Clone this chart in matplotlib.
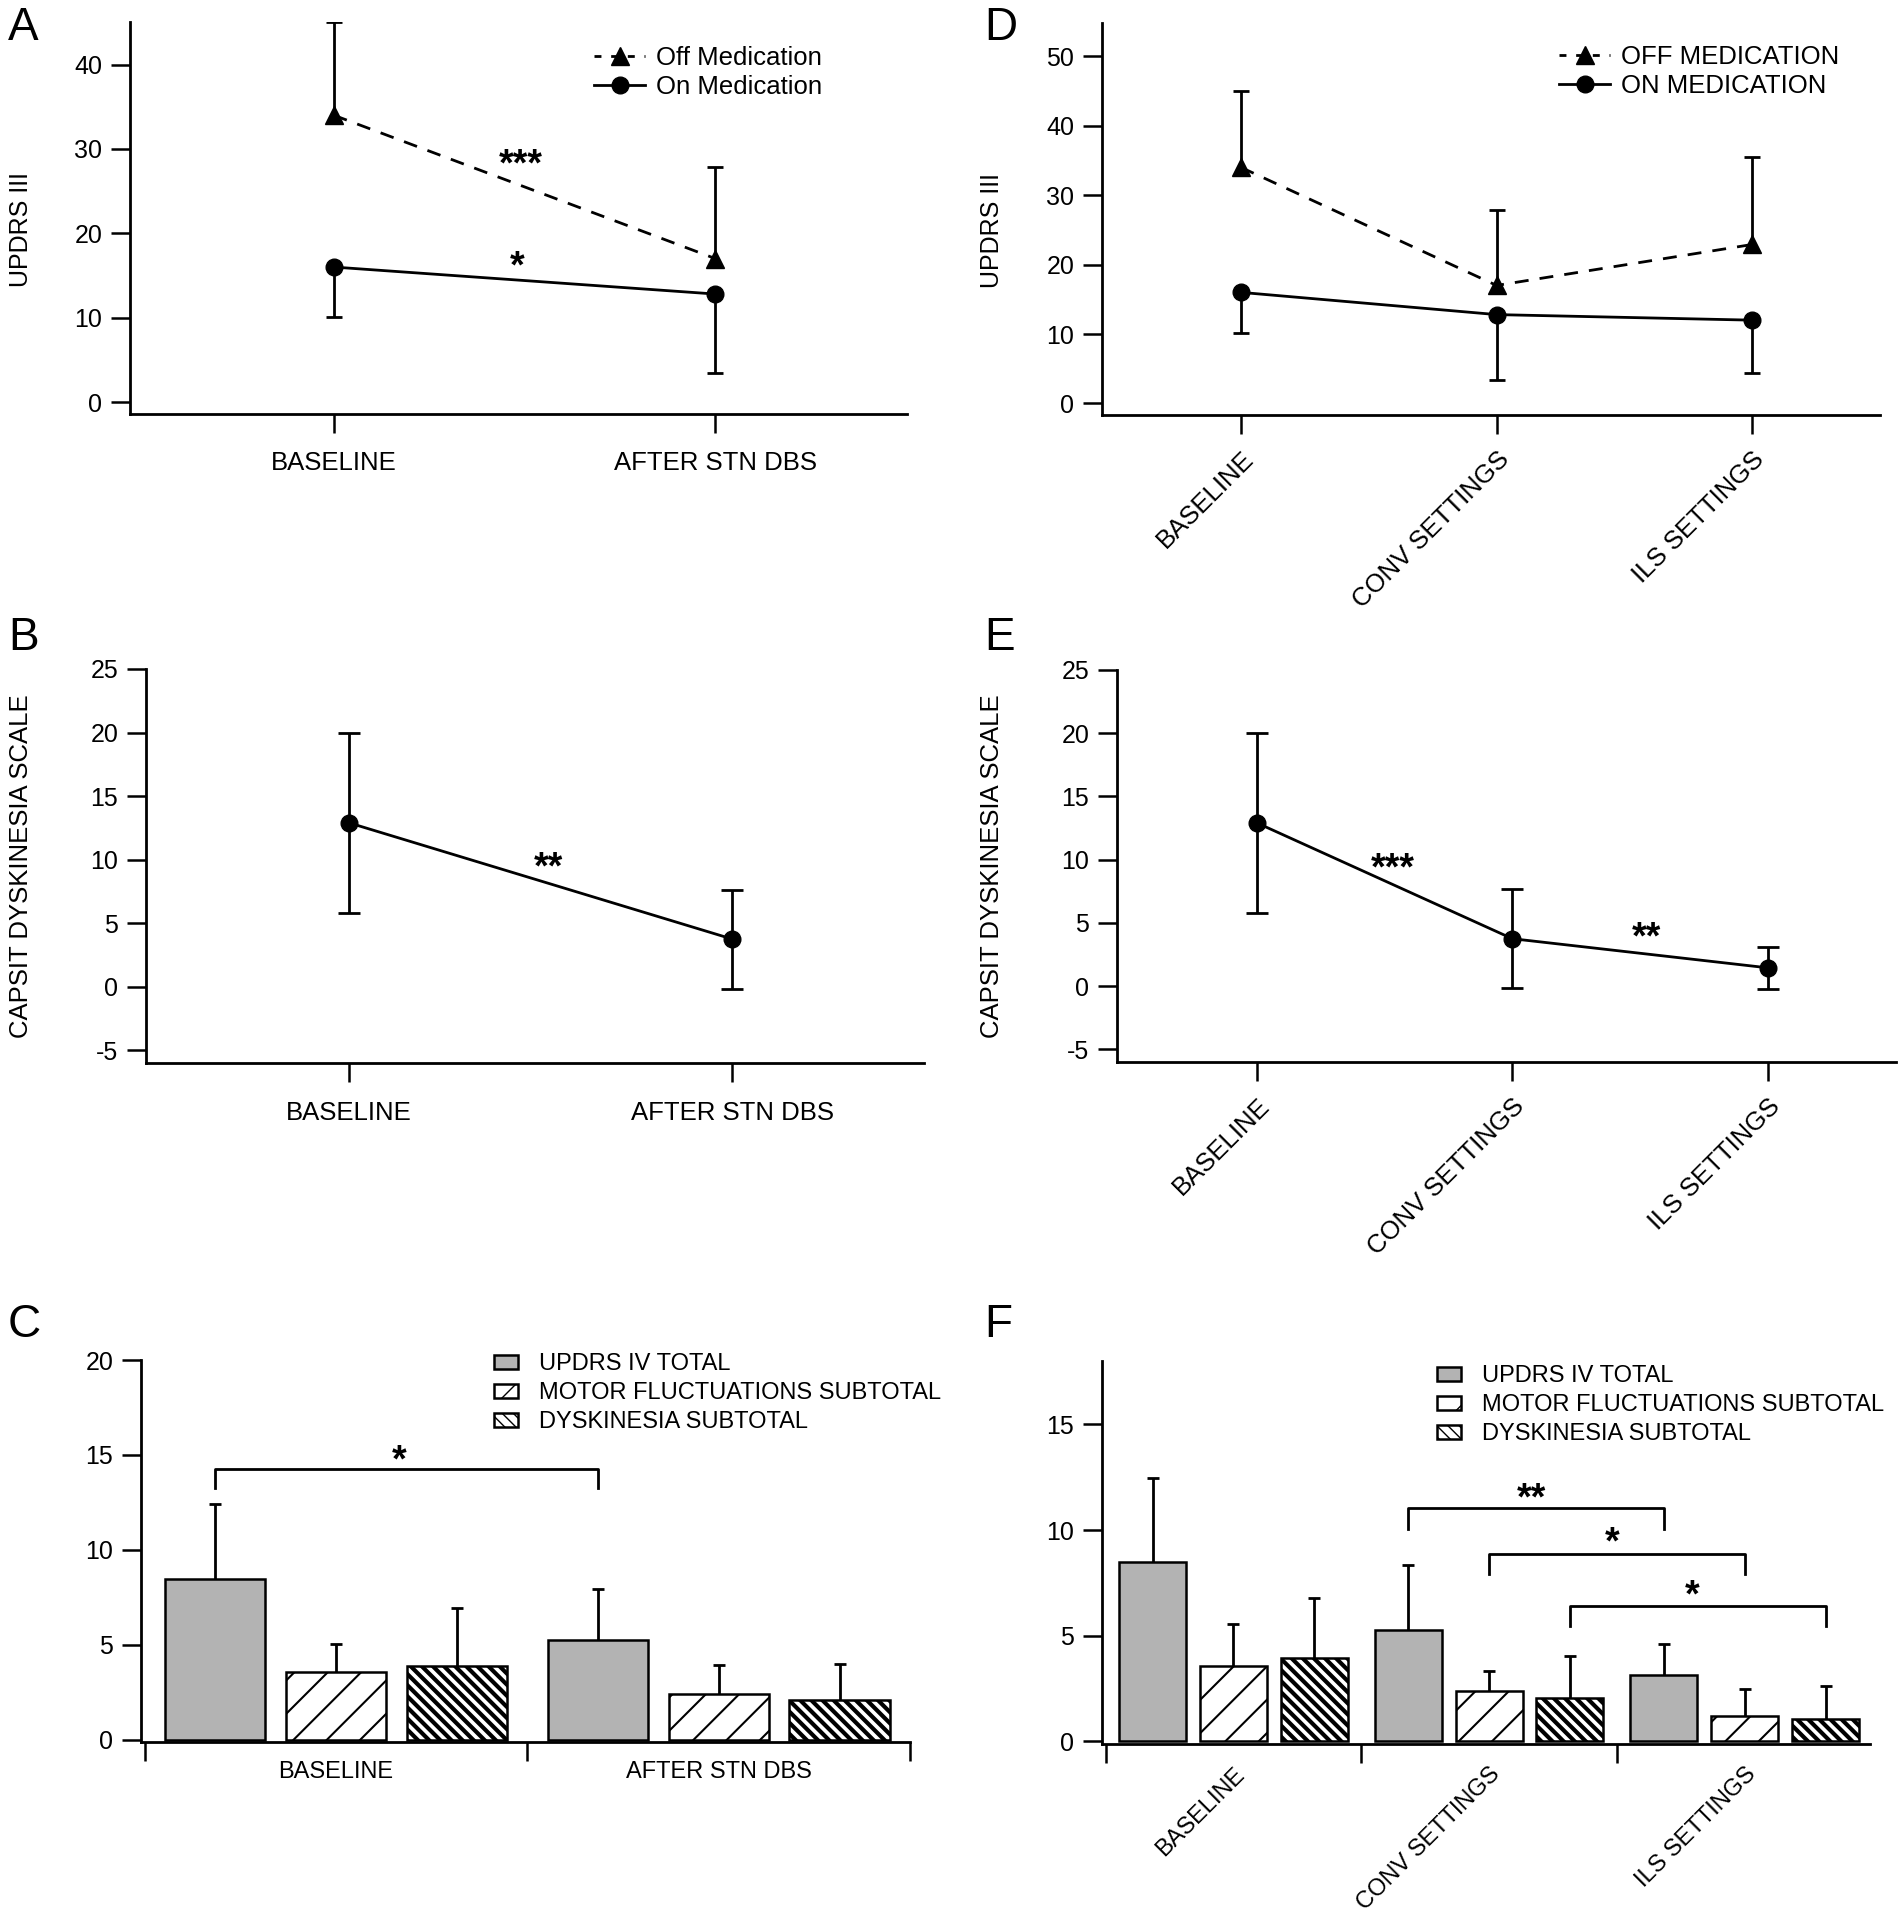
import numpy as np
import matplotlib
matplotlib.use('Agg')
import matplotlib.pyplot as plt
from matplotlib.lines import Line2D
from matplotlib.patches import Patch

plt.rcParams['font.family'] = ['Liberation Sans', 'DejaVu Sans']
plt.rcParams['axes.linewidth'] = 2.0
plt.rcParams['axes.unicode_minus'] = False
plt.rcParams['hatch.color'] = 'black'

# --- data ---
stages_2 = ['BASELINE', 'AFTER STN DBS']
stages_3 = ['BASELINE', 'CONV SETTINGS', 'ILS SETTINGS']

# UPDRS III (A uses the first two points, D all three)
updrs3_off = [34.0, 17.0, 22.9]
updrs3_off_sd = [11.0, 10.9, 12.6]
updrs3_on = [16.0, 12.8, 12.0]
updrs3_on_sd = [5.9, 9.4, 7.6]

# CAPSIT dyskinesia scale (B first two, E all three)
capsit = [12.9, 3.75, 1.45]
capsit_sd = [7.1, 3.9, 1.65]

# UPDRS IV bars, panel C
c_total = [8.46, 5.26]
c_total_sd = [3.95, 2.69]
c_motor = [3.58, 2.38]
c_motor_sd = [1.47, 1.54]
c_dysk = [3.90, 2.06]
c_dysk_sd = [3.04, 1.93]

# UPDRS IV bars, panel F
f_total = [8.48, 5.25, 3.14]
f_total_sd = [3.99, 3.10, 1.48]
f_motor = [3.57, 2.38, 1.18]
f_motor_sd = [2.00, 0.95, 1.27]
f_dysk = [3.92, 2.03, 1.05]
f_dysk_sd = [2.87, 2.00, 1.55]

bar_labels = ['UPDRS IV TOTAL', 'MOTOR FLUCTUATIONS SUBTOTAL', 'DYSKINESIA SUBTOTAL']

W, H = 1899, 1920
fig = plt.figure(figsize=(W / 100, H / 100), dpi=100)
LW = 2.0
DYSK_HATCH = '\\\\\\'


def add_ax(x0, y0, x1, y1):
    # pixel box of the axes in the figure
    return fig.add_axes([x0 / W, 1 - y1 / H, (x1 - x0) / W, (y1 - y0) / H])


def style(ax):
    ax.spines['top'].set_visible(False)
    ax.spines['right'].set_visible(False)
    ax.tick_params(axis='y', length=14, width=1.8, pad=6, labelsize=18)
    ax.tick_params(axis='x', length=14, width=1.8, labelsize=18)


def one_sided(ax, x, y, err, sign, cap=11):
    x = np.asarray(x, float)
    y = np.asarray(y, float)
    end = y + sign * np.asarray(err, float)
    ax.vlines(x, y, end, color='k', lw=LW, zorder=2)
    ax.plot(x, end, ls='none', marker='_', ms=cap, mew=LW, color='k', zorder=2)


def stars(ax, x, y, s):
    ax.text(x, y, s, ha='center', va='center', fontsize=27, fontweight='bold')


def updrs3_panel(ax, n, ylim, yticks, labels, rotate):
    x = np.arange(n)
    ax.plot(x, updrs3_off[:n], color='k', lw=LW, ls='--', dashes=(5, 4),
            marker='^', ms=13, zorder=3)
    ax.plot(x, updrs3_on[:n], color='k', lw=LW, marker='o', ms=12, zorder=3)
    one_sided(ax, x, updrs3_off[:n], updrs3_off_sd[:n], +1)
    one_sided(ax, x, updrs3_on[:n], updrs3_on_sd[:n], -1)
    ax.set_ylim(*ylim)
    ax.set_yticks(yticks)
    ax.set_xticks(x)
    if rotate:
        ax.set_xticklabels(labels, rotation=45, ha='right', rotation_mode='anchor', fontsize=18.5)
        ax.tick_params(axis='x', pad=9)
    else:
        ax.set_xticklabels(labels, fontsize=18.5)
        ax.tick_params(axis='x', pad=13)
    ax.set_ylabel('UPDRS III', fontsize=18)
    handles = [Line2D([], [], color='k', lw=LW, ls='--', dashes=(2.5, 3.5), marker='^', ms=13),
               Line2D([], [], color='k', lw=LW, marker='o', ms=12)]
    return handles


def capsit_panel(ax, n, labels, rotate):
    x = np.arange(n)
    ax.errorbar(x, capsit[:n], yerr=capsit_sd[:n], color='k', lw=LW, marker='o', ms=12,
                capsize=8, capthick=LW, elinewidth=LW)
    ax.set_ylim(-6, 25)
    ax.set_yticks([-5, 0, 5, 10, 15, 20, 25])
    ax.set_xticks(x)
    if rotate:
        ax.set_xticklabels(labels, rotation=45, ha='right', rotation_mode='anchor', fontsize=18.5)
        ax.tick_params(axis='x', pad=9)
    else:
        ax.set_xticklabels(labels, fontsize=18.5)
        ax.tick_params(axis='x', pad=13)
    ax.set_ylabel('CAPSIT DYSKINESIA SCALE', fontsize=18.5)


def bar_panel(ax, n, total, total_sd, motor, motor_sd, dysk, dysk_sd, labels, rotate):
    g = np.arange(n)
    off, w = 0.316, 0.262
    ax.bar(g - off, total, w, color='#b3b3b3', edgecolor='k', lw=1.8, zorder=2)
    with plt.rc_context({'hatch.linewidth': 1.5}):
        ax.bar(g, motor, w, color='white', edgecolor='k', lw=1.8, hatch='/', zorder=2)
    with plt.rc_context({'hatch.linewidth': 3.0}):
        ax.bar(g + off, dysk, w, color='white', edgecolor='k', lw=1.8, hatch=DYSK_HATCH, zorder=2)
    one_sided(ax, g - off, total, total_sd, +1, cap=8)
    one_sided(ax, g, motor, motor_sd, +1, cap=8)
    one_sided(ax, g + off, dysk, dysk_sd, +1, cap=8)
    ax.set_xticks(np.arange(n + 1) - 0.5)
    ax.set_xticklabels([])
    ax.set_xticks(g, minor=True)
    ax.tick_params(axis='x', which='major', length=14, width=1.8)
    ax.tick_params(axis='x', which='minor', length=0)
    if rotate:
        ax.set_xticklabels(labels, minor=True, rotation=45, ha='right',
                           rotation_mode='anchor', fontsize=17)
        ax.tick_params(axis='x', which='minor', pad=14)
    else:
        ax.set_xticklabels(labels, minor=True, fontsize=17)
        ax.tick_params(axis='x', which='minor', pad=14)
    with plt.rc_context({'hatch.linewidth': 1.5}):
        h = [Patch(facecolor='#b3b3b3', edgecolor='k', lw=1.8),
             Patch(facecolor='white', edgecolor='k', lw=1.8, hatch='/')]
    with plt.rc_context({'hatch.linewidth': 3.0}):
        h.append(Patch(facecolor='white', edgecolor='k', lw=1.8, hatch=DYSK_HATCH))
    return h


def bracket(ax, x0, x1, y, drop, s, ty):
    ax.plot([x0, x0, x1, x1], [y - drop, y, y, y - drop], color='k', lw=LW)
    stars(ax, (x0 + x1) / 2 - 0.02, ty, s)


# --- A ---
axA = add_ax(130, 22, 907, 414)
style(axA)
hA = updrs3_panel(axA, 2, (-1.42, 45.05), [0, 10, 20, 30, 40], stages_2, False)
axA.set_xlim(-0.534, 1.502)
axA.yaxis.set_label_coords(-0.125, 0.47)
stars(axA, 0.49, 28.0, '***')
stars(axA, 0.48, 16.0, '*')
axA.legend(hA, ['Off Medication', 'On Medication'], loc='upper left',
           bbox_to_anchor=(594 / W, 1 - 46 / H), bbox_transform=fig.transFigure,
           frameon=False, fontsize=18.5, handlelength=2.0, handletextpad=0.4,
           labelspacing=0.2, borderpad=0, borderaxespad=0, numpoints=1)

# --- D ---
axD = add_ax(1102, 23, 1880, 415)
style(axD)
hD = updrs3_panel(axD, 3, (-1.66, 54.8), [0, 10, 20, 30, 40, 50], stages_3, True)
axD.set_xlim(-0.544, 2.50)
axD.yaxis.set_label_coords(-0.126, 0.47)
axD.legend(hD, ['OFF MEDICATION', 'ON MEDICATION'], loc='upper left',
           bbox_to_anchor=(1559 / W, 1 - 45 / H), bbox_transform=fig.transFigure,
           frameon=False, fontsize=18.5, handlelength=2.0, handletextpad=0.4,
           labelspacing=0.2, borderpad=0, borderaxespad=0, numpoints=1)

# --- B ---
axB = add_ax(146, 669, 924, 1063)
style(axB)
capsit_panel(axB, 2, stages_2, False)
axB.set_xlim(-0.529, 1.5)
axB.yaxis.set_label_coords(-0.145, 0.5)
stars(axB, 0.52, 9.3, '**')

# --- E ---
axE = add_ax(1117, 670, 1896, 1062)
style(axE)
capsit_panel(axE, 3, stages_3, True)
axE.set_xlim(-0.549, 2.503)
axE.yaxis.set_label_coords(-0.145, 0.5)
stars(axE, 0.53, 9.2, '***')
stars(axE, 1.527, 3.8, '**')

# --- C ---
axC = add_ax(141, 1360, 910, 1742)
style(axC)
hC = bar_panel(axC, 2, c_total, c_total_sd, c_motor, c_motor_sd, c_dysk, c_dysk_sd,
               stages_2, False)
axC.set_xlim(-0.51, 1.5)
axC.set_ylim(-0.13, 20)
axC.set_yticks([0, 5, 10, 15, 20])
bracket(axC, -0.316, 0.684, 14.28, 1.0, '*', 14.65)
axC.legend(hC, bar_labels, loc='upper left',
           bbox_to_anchor=(494 / W, 1 - 1353 / H), bbox_transform=fig.transFigure,
           frameon=False, fontsize=17, handlelength=1.0, handleheight=0.55,
           handletextpad=0.9, labelspacing=0.3, borderpad=0, borderaxespad=0)

# --- F ---
axF = add_ax(1102, 1361, 1870, 1744)
style(axF)
hF = bar_panel(axF, 3, f_total, f_total_sd, f_motor, f_motor_sd, f_dysk, f_dysk_sd,
               stages_3, True)
axF.set_xlim(-0.514, 2.49)
axF.set_ylim(-0.13, 18)
axF.set_yticks([0, 5, 10, 15])
bracket(axF, 0.684, 1.684, 11.06, 1.0, '**', 11.45)
bracket(axF, 1.0, 2.0, 8.88, 0.98, '*', 9.35)
bracket(axF, 1.316, 2.316, 6.4, 0.94, '*', 6.85)
axF.legend(hF, bar_labels, loc='upper left',
           bbox_to_anchor=(1437 / W, 1 - 1365 / H), bbox_transform=fig.transFigure,
           frameon=False, fontsize=17, handlelength=1.0, handleheight=0.55,
           handletextpad=0.9, labelspacing=0.3, borderpad=0, borderaxespad=0)

# panel letters
for letter, (px, py) in zip('ABCDEF', [(8, 6), (8, 616), (8, 1303),
                                       (984, 6), (984, 616), (984, 1303)]):
    fig.text(px / W, 1 - py / H, letter, fontsize=33, ha='left', va='top')

fig.savefig('out.png', dpi=100)
